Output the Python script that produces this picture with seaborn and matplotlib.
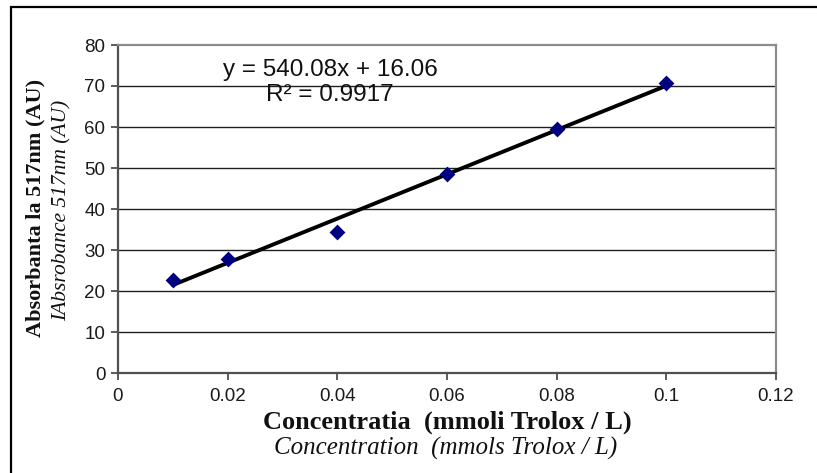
import numpy as np
import pandas as pd
import matplotlib
matplotlib.use("Agg")
import matplotlib.pyplot as plt
from matplotlib.patches import Rectangle
import seaborn as sns

# Trolox calibration data
concentration = [0.01, 0.02, 0.04, 0.06, 0.08, 0.10]
absorbance = [22.8, 27.9, 34.3, 48.6, 59.6, 70.8]

# Linear trendline as reported
slope = 540.08
intercept = 16.06
r_squared = 0.9917

x_ticks = [0, 0.02, 0.04, 0.06, 0.08, 0.1, 0.12]
x_tick_labels = ["0", "0.02", "0.04", "0.06", "0.08", "0.1", "0.12"]
y_ticks = [0, 10, 20, 30, 40, 50, 60, 70, 80]

sns.set_theme(style="white")
plt.rcParams["font.family"] = ["Liberation Sans", "DejaVu Sans"]

W, H = 817, 473
fig = plt.figure(figsize=(W / 100, H / 100), dpi=100)
ax = fig.add_axes([118 / W, 1 - 373 / H, (776 - 118) / W, (373 - 45) / H])

df = pd.DataFrame({"x": concentration, "y": absorbance})
trend = pd.DataFrame({"x": [min(concentration), max(concentration)]})
trend["y"] = slope * trend["x"] + intercept

ax.set_xlim(0, 0.12)
ax.set_ylim(0, 80)
for yv in y_ticks[1:-1]:
    ax.axhline(yv, color="#202020", lw=1.0, zorder=0)

sns.lineplot(data=trend, x="x", y="y", color="black", lw=2.8, ax=ax, zorder=2)
sns.scatterplot(data=df, x="x", y="y", marker="D", color="#000080", s=65,
                edgecolor="#000080", linewidth=0, ax=ax, zorder=3)

ax.set_xticks(x_ticks)
ax.set_xticklabels(x_tick_labels)
ax.set_yticks(y_ticks)
ax.tick_params(axis="both", which="major", direction="out", length=5, width=1.2,
               color="#404040", labelsize=13.5, labelcolor="#1a1a1a", pad=4,
               bottom=True, left=True)
ax.tick_params(axis="x", pad=6)
ax.set_xlabel("")
ax.set_ylabel("")

for side in ["left", "bottom"]:
    ax.spines[side].set_color("#505050")
    ax.spines[side].set_linewidth(1.6)
for side in ["top", "right"]:
    ax.spines[side].set_color("#8c8c8c")
    ax.spines[side].set_linewidth(1.6)

# Trendline equation
ax.text(0.0387, 73.9, f"y = {slope:.2f}x + {intercept:.2f}", ha="center", va="center",
        fontsize=17.5, color="#111111")
ax.text(0.0387, 67.8, f"R\u00b2 = {r_squared:.4f}", ha="center", va="center",
        fontsize=17.5, color="#111111")

# Bilingual axis titles
serif = ["Liberation Serif", "DejaVu Serif"]
fig.text(35 / W, 1 - 208 / H, "Absorbanta la 517nm (AU)", rotation=90, ha="center",
         va="center", fontsize=16, fontweight="bold", family=serif, color="#111111")
fig.text(62 / W, 1 - 210 / H, "IAbsrobance 517nm (AU)", rotation=90, ha="center",
         va="center", fontsize=15.5, style="italic", family=serif, color="#111111")
fig.text(447 / W, 1 - 422 / H, "Concentratia  (mmoli Trolox / L)", ha="center",
         va="center", fontsize=19, fontweight="bold", family=serif, color="#111111")
fig.text(446 / W, 1 - 448 / H, "Concentration  (mmols Trolox / L)", ha="center",
         va="center", fontsize=18, style="italic", family=serif, color="#111111")

# Outer chart frame
fig.patches.append(Rectangle((11 / W, -0.1), 1.2, 1.1 - 7 / H, transform=fig.transFigure,
                             fill=False, edgecolor="black", lw=1.6, figure=fig))

fig.savefig("out.png", dpi=100)
